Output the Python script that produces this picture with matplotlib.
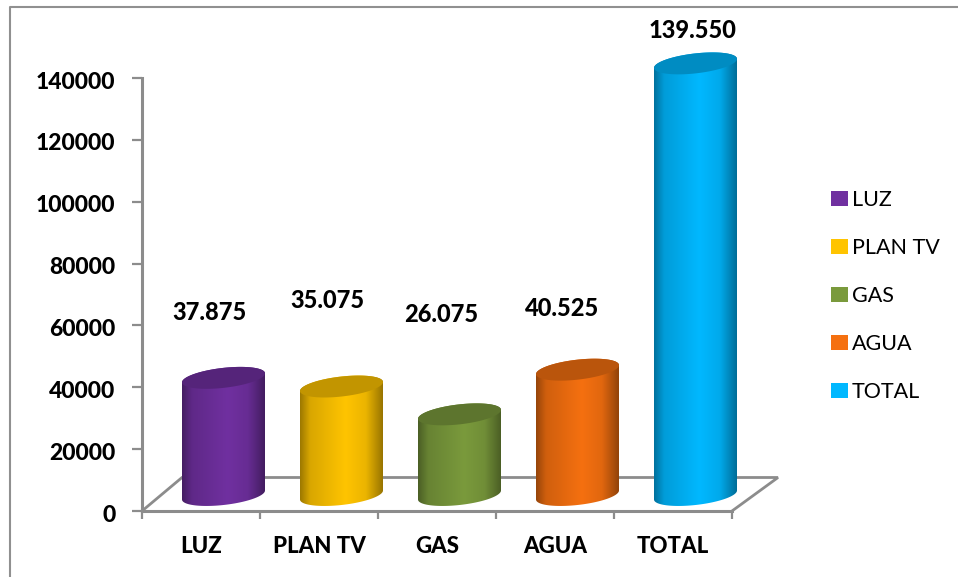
import numpy as np
import matplotlib
matplotlib.use("Agg")
import matplotlib.pyplot as plt
from matplotlib.colors import to_rgb
from matplotlib.lines import Line2D
from matplotlib.patches import Patch, Polygon
from matplotlib.transforms import ScaledTranslation

categories = ["LUZ", "PLAN TV", "GAS", "AGUA", "TOTAL"]
values = [37875, 35075, 26075, 40525, 139550]
colors = ["#7030A0", "#FFC400", "#7A9A3C", "#F57010", "#00B8FF"]
y_ticks = [0, 20000, 40000, 60000, 80000, 100000, 120000, 140000]
label_px = [(209, 312), (327, 301), (441, 314), (562, 309), (692, 31)]

W, H = 958, 577
LEFT, RIGHT, BOTTOM, TOP = 142, 732, 511, 78
GRAY = "#8c8c8c"

plt.rcParams["font.family"] = ["Lato", "DejaVu Sans"]
HEAVY = 900

fig = plt.figure(figsize=(W / 100, H / 100), dpi=100)
ax = fig.add_axes([LEFT / W, 1 - BOTTOM / H, (RIGHT - LEFT) / W, (BOTTOM - TOP) / H])
ax.set_xlim(0, len(categories))
ax.set_ylim(0, 140000)

# size of one pixel in data units
px = len(categories) / (RIGHT - LEFT)
py = 140000 / (BOTTOM - TOP)


def ellipse(cx, cy, t):
    a, b, s = 41.5, 10.0, 4.5
    return cx + a * px * np.cos(t), cy + (b * np.sin(t) + s * np.cos(t)) * py


def shade(color, n=80):
    base = np.array(to_rgb(color))
    pos = np.linspace(0, 1, n)
    f = np.interp(pos, [0, 0.12, 0.55, 0.8, 1], [0.62, 0.85, 1.0, 0.92, 0.6])
    return (base * f[:, None])[None, :, :]


for i, (val, col) in enumerate(zip(values, colors)):
    cx = i + (40 + 41.5) * px
    low = 16 * py
    high = val + 16 * py
    # lower arc of base, upper-side of the top ellipse closes the body
    t1 = np.linspace(np.pi, 2 * np.pi, 60)
    t2 = np.linspace(0, np.pi, 60)
    bx, by = ellipse(cx, low, t1)
    tx, ty = ellipse(cx, high, t2)
    body = Polygon(np.column_stack([np.r_[bx, tx], np.r_[by, ty]]), closed=True,
                   transform=ax.transData, fc="none", ec="none")
    ax.add_patch(body)
    body.set_clip_on(False)
    img = ax.imshow(shade(col), extent=[cx - 41.5 * px, cx + 41.5 * px, 0, high + 12 * py],
                    aspect="auto", zorder=3)
    img.set_clip_box(fig.bbox)
    img.set_clip_path(body)
    # top cap
    t = np.linspace(0, 2 * np.pi, 120)
    ex, ey = ellipse(cx, high, t)
    ax.fill(ex, ey, color=np.array(to_rgb(col)) * 0.76, lw=0, zorder=4, clip_on=False)

ax.set_xlim(0, len(categories))
ax.set_ylim(0, 140000)

# floor of the 3d box
floor_x = [0, 40 * px, 5 + 46 * px, 5]
floor_y = [0, 33.5 * py, 33.5 * py, 0]
ax.plot(floor_x, floor_y, color=GRAY, lw=2, zorder=1, clip_on=False, solid_joinstyle="miter")

for side in ["top", "right"]:
    ax.spines[side].set_visible(False)
for side in ["left", "bottom"]:
    ax.spines[side].set_color(GRAY)
    ax.spines[side].set_linewidth(2.2)

ax.set_yticks(y_ticks)
ax.set_yticklabels([str(v) for v in y_ticks], fontsize=16.5, fontweight=HEAVY)
ax.tick_params(axis="y", length=7, width=1.6, color=GRAY, pad=12)
shift = ScaledTranslation(0, -1.5 / 72, fig.dpi_scale_trans)
for lab in ax.get_yticklabels():
    lab.set_transform(lab.get_transform() + shift)
ax.set_xticks(range(len(categories) + 1))
ax.set_xticklabels([])
ax.tick_params(axis="x", which="major", length=6, width=1.6, color=GRAY)
ax.set_xticks(np.arange(len(categories)) + 0.5, minor=True)
ax.set_xticklabels(categories, minor=True, fontsize=16, fontweight=HEAVY)
ax.tick_params(axis="x", which="minor", length=0, pad=18)

# values above the columns
for (x, y), val in zip(label_px, values):
    fig.text(x / W, 1 - y / H, f"{val:,}".replace(",", "."), ha="center", va="center",
             fontsize=17, fontweight=HEAVY, color="black")

handles = [Patch(fc=c, ec="none", label=n) for c, n in zip(colors, categories)]
fig.legend(handles=handles, loc="center left", bbox_to_anchor=(812 / W, 1 - 296 / H), frameon=False,
           fontsize=15.5, labelspacing=1.3, handlelength=0.75, handleheight=0.75, handletextpad=0.2)

# outer frame
fig.add_artist(Line2D([10 / W, 10 / W, 1], [0, 1 - 7 / H, 1 - 7 / H], color="#909090", lw=1.5))

fig.savefig("out.png", dpi=100)
